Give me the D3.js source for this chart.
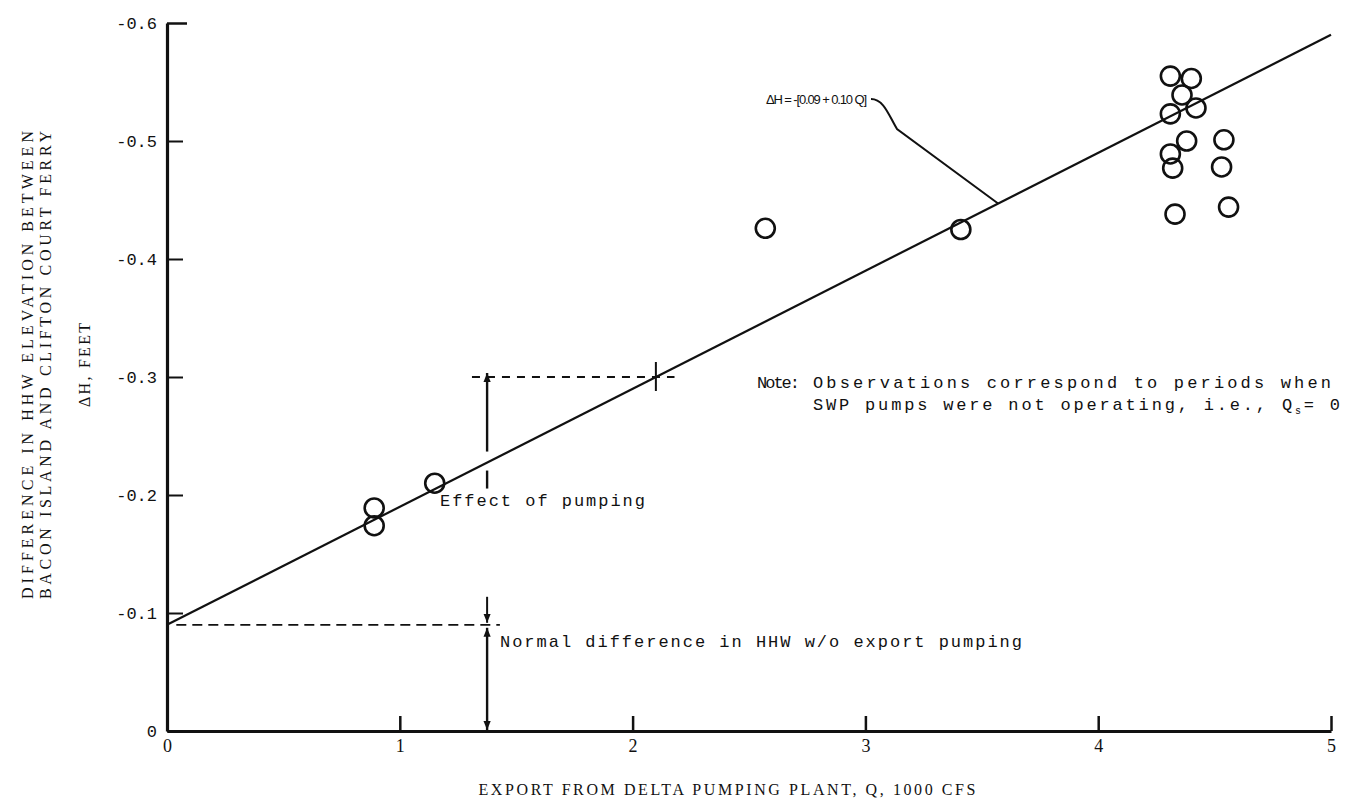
<!DOCTYPE html>
<html>
<head>
<meta charset="utf-8">
<script src="https://cdn.jsdelivr.net/npm/d3@7"></script>
<style>
  html, body { margin: 0; padding: 0; background: #fff; }
  svg { display: block; }
  text { fill: #111; }
</style>
</head>
<body>
<svg id="chart" width="1346" height="806"></svg>
<script>
// ---- data ----
const xTicks = [0, 1, 2, 3, 4, 5];
const xTickLabels = ["0", "1", "2", "3", "4", "5"];
const yTicks = [0, -0.1, -0.2, -0.3, -0.4, -0.5, -0.6];
const yTickLabels = ["0", "-0.1", "-0.2", "-0.3", "-0.4", "-0.5", "-0.6"];

// observations: export Q (1000 cfs) and ΔH (feet)
const exportQ = [0.89, 0.89, 1.15, 2.57, 3.41,
                 4.31, 4.40, 4.36, 4.42, 4.31, 4.38, 4.54, 4.31, 4.32, 4.53, 4.33, 4.56];
const deltaH  = [-0.189, -0.174, -0.210, -0.426, -0.425,
                 -0.555, -0.553, -0.539, -0.528, -0.523, -0.500, -0.501, -0.489, -0.477, -0.478, -0.438, -0.444];

// fitted line ΔH = -[0.09 + 0.10 Q]
const fitQ = [0, 5];
const fitIntercept = 0.09, fitSlope = 0.10;

// annotation anchors (data units)
const pumpQ = 1.375;       // vertical arrows
const crossQ = 2.1;        // cross mark on fit line at ΔH=-0.3
const effectLevel = -0.3;
const normalLevel = -0.09;

// ---- drawing ----
const svg = d3.select("#chart");
const x = d3.scaleLinear().domain([0, 5]).range([167, 1331]);
const y = d3.scaleLinear().domain([0, -0.6]).range([731, 23]);
const fitH = q => -(fitIntercept + fitSlope * q);

const mono = "'Liberation Mono', 'DejaVu Sans Mono', monospace";
const serif = "'Liberation Serif', 'DejaVu Serif', serif";

svg.append("defs").append("marker")
  .attr("id", "arr").attr("viewBox", "0 0 10 10")
  .attr("refX", 10).attr("refY", 5)
  .attr("markerWidth", 9).attr("markerHeight", 9)
  .attr("markerUnits", "userSpaceOnUse")
  .attr("orient", "auto-start-reverse")
  .append("path").attr("d", "M0,1 L10,5 L0,9 Z").attr("fill", "#111");

// axes
const xAxis = d3.axisBottom(x).tickValues(xTicks)
  .tickFormat((d, i) => xTickLabels[i]).tickSizeInner(-15).tickSizeOuter(0).tickPadding(8);
const gx = svg.append("g").attr("transform", `translate(0,${y(0)})`).call(xAxis);
gx.select(".domain").attr("stroke", "#111").attr("stroke-width", 3);
gx.selectAll(".tick line").attr("stroke", "#111").attr("stroke-width", 2.5);
gx.selectAll(".tick text").attr("font-family", serif).attr("font-size", 18).attr("fill", "#111");

const yAxis = d3.axisLeft(y).tickValues(yTicks)
  .tickFormat((d, i) => yTickLabels[i]).tickSizeInner(-16).tickSizeOuter(0).tickPadding(10);
const gy = svg.append("g").attr("transform", `translate(${x(0)},0)`).call(yAxis);
gy.select(".domain").attr("stroke", "#111").attr("stroke-width", 3.2);
gy.selectAll(".tick line").attr("stroke", "#111").attr("stroke-width", 2);
gy.selectAll(".tick text").attr("font-family", mono).attr("font-size", 17).attr("fill", "#111");
gy.selectAll(".tick").filter(d => d === -0.6).select("line")
  .attr("x2", 20).attr("stroke-width", 2.5);

// fitted line
svg.append("path")
  .datum(fitQ)
  .attr("d", d3.line().x(q => x(q)).y(q => y(fitH(q))))
  .attr("fill", "none").attr("stroke", "#111").attr("stroke-width", 2.2);

// observations
svg.append("g").selectAll("circle")
  .data(exportQ.map((q, i) => [q, deltaH[i]]))
  .join("circle")
  .attr("cx", d => x(d[0])).attr("cy", d => y(d[1])).attr("r", 9.5)
  .attr("fill", "none").attr("stroke", "#111").attr("stroke-width", 2.6);

// dashed reference lines
svg.append("line")
  .attr("x1", x(0.04)).attr("x2", x(1.43)).attr("y1", y(normalLevel)).attr("y2", y(normalLevel))
  .attr("stroke", "#111").attr("stroke-width", 1.8).attr("stroke-dasharray", "10,6");
svg.append("line")
  .attr("x1", x(1.31)).attr("x2", x(2.18)).attr("y1", y(effectLevel)).attr("y2", y(effectLevel))
  .attr("stroke", "#111").attr("stroke-width", 1.8).attr("stroke-dasharray", "8,7");

// cross mark on the fit line
svg.append("line")
  .attr("x1", x(crossQ)).attr("x2", x(crossQ))
  .attr("y1", y(effectLevel) - 15).attr("y2", y(effectLevel) + 14)
  .attr("stroke", "#111").attr("stroke-width", 2);

// "Effect of pumping" arrow
const xp = x(pumpQ);
svg.append("line")
  .attr("x1", xp).attr("x2", xp)
  .attr("y1", y(fitH(pumpQ)) - 11).attr("y2", y(effectLevel) - 4)
  .attr("stroke", "#111").attr("stroke-width", 2.4).attr("marker-end", "url(#arr)");
svg.append("line")
  .attr("x1", xp).attr("x2", xp)
  .attr("y1", y(fitH(pumpQ)) + 8).attr("y2", y(fitH(pumpQ)) + 26)
  .attr("stroke", "#111").attr("stroke-width", 2.4);

// "Normal difference" arrows
svg.append("line")
  .attr("x1", xp).attr("x2", xp)
  .attr("y1", y(normalLevel) - 28).attr("y2", y(normalLevel) - 2)
  .attr("stroke", "#111").attr("stroke-width", 2).attr("marker-end", "url(#arr)");
svg.append("line")
  .attr("x1", xp).attr("x2", xp)
  .attr("y1", y(normalLevel) + 3).attr("y2", y(0) - 1)
  .attr("stroke", "#111").attr("stroke-width", 2.4)
  .attr("marker-start", "url(#arr)").attr("marker-end", "url(#arr)");

// equation leader
svg.append("path")
  .attr("d", `M871,99 C884,99 889,116 897,129 L${x(3.57)},${y(fitH(3.57))}`)
  .attr("fill", "none").attr("stroke", "#111").attr("stroke-width", 2);

function label(t, px, py, opts = {}) {
  const el = svg.append("text").attr("x", px).attr("y", py)
    .attr("font-family", opts.family || mono)
    .attr("font-size", opts.size || 16)
    .text(t);
  if (opts.len) el.attr("textLength", opts.len).attr("lengthAdjust", "spacing");
  if (opts.anchor) el.attr("text-anchor", opts.anchor);
  return el;
}

label("ΔH = -[0.09 + 0.10 Q]", 766, 104,
  { size: 13, len: 101, family: "'Liberation Sans', 'DejaVu Sans', sans-serif" });
label("Effect of pumping", 440, 506, { size: 17, len: 205 });
label("Normal difference in HHW w/o export pumping", 500, 647, { size: 17, len: 522 });
label("Note:", 757, 388, { size: 17, len: 43 });
label("Observations correspond to periods when", 813, 388, { size: 17, len: 518 });
const n2 = svg.append("text").attr("x", 813).attr("y", 410)
  .attr("font-family", mono).attr("font-size", 17)
  .attr("textLength", 527).attr("lengthAdjust", "spacing");
n2.append("tspan").text("SWP pumps were not operating, i.e., Q");
n2.append("tspan").attr("font-size", 10).attr("dy", 4).text("s");
n2.append("tspan").attr("dy", -4).text("= 0");

// axis titles
label("EXPORT FROM DELTA PUMPING PLANT, Q, 1000 CFS", 727, 795,
  { size: 16, len: 497, anchor: "middle", family: serif });

const yt = svg.append("g").attr("transform", "translate(0,365) rotate(-90)");
yt.append("text").attr("x", 0).attr("y", 33).attr("text-anchor", "middle")
  .attr("font-family", serif).attr("font-size", 16)
  .attr("textLength", 468).attr("lengthAdjust", "spacing")
  .text("DIFFERENCE IN HHW ELEVATION BETWEEN");
yt.append("text").attr("x", 0).attr("y", 51).attr("text-anchor", "middle")
  .attr("font-family", serif).attr("font-size", 16)
  .attr("textLength", 468).attr("lengthAdjust", "spacing")
  .text("BACON ISLAND AND CLIFTON COURT FERRY");
yt.append("text").attr("x", 0).attr("y", 90).attr("text-anchor", "middle")
  .attr("font-family", serif).attr("font-size", 16)
  .attr("textLength", 84).attr("lengthAdjust", "spacing")
  .text("ΔH, FEET");
</script>
</body>
</html>
